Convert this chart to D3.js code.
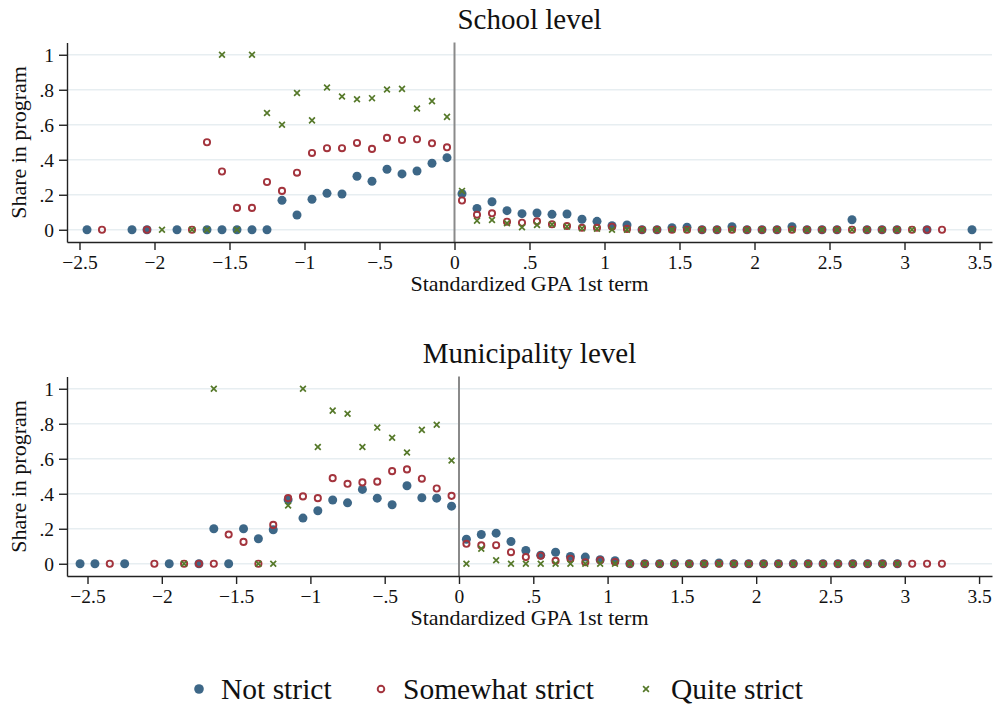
<!DOCTYPE html>
<html>
<head>
<meta charset="utf-8">
<script src="https://cdn.jsdelivr.net/npm/d3@7"></script>
<style>
  html, body { margin: 0; padding: 0; background: #ffffff; }
  svg { display: block; }
  text { font-family: "Liberation Serif", "Times New Roman", serif; fill: #111; }
</style>
</head>
<body>
<svg id="chart" width="996" height="708"></svg>
<script>
// Share in program by standardized GPA bin, [bin centre, share]
const schoolNotStrict = [
  [-2.45,0],[-2.15,0],[-2.05,0],[-1.85,0],[-1.65,0],[-1.55,0],[-1.45,0],[-1.35,0],[-1.25,0],
  [-1.15,0.168],[-1.05,0.084],[-0.95,0.174],[-0.85,0.208],[-0.75,0.204],[-0.65,0.306],
  [-0.55,0.277],[-0.45,0.346],[-0.35,0.319],[-0.25,0.336],[-0.15,0.38],[-0.05,0.412],
  [0.05,0.206],[0.15,0.122],[0.25,0.16],[0.35,0.109],[0.45,0.092],[0.55,0.096],[0.65,0.088],
  [0.75,0.09],[0.85,0.06],[0.95,0.048],[1.05,0.023],[1.15,0.027],[1.25,0],[1.35,0],
  [1.45,0.012],[1.55,0.015],[1.65,0],[1.75,0],[1.85,0.017],[1.95,0],[2.05,0],[2.15,0],
  [2.25,0.017],[2.35,0],[2.45,0],[2.55,0],[2.65,0.057],[2.75,0],[2.85,0],[2.95,0],
  [3.15,0],[3.45,0]
];
const schoolSomewhat = [
  [-2.35,0],[-2.05,0],[-1.75,0],[-1.65,0.5],[-1.55,0.333],[-1.45,0.125],[-1.35,0.125],
  [-1.25,0.273],[-1.15,0.222],[-1.05,0.326],[-0.95,0.439],[-0.85,0.466],[-0.75,0.466],
  [-0.65,0.496],[-0.55,0.462],[-0.45,0.525],[-0.35,0.513],[-0.25,0.517],[-0.15,0.494],
  [-0.05,0.471],[0.05,0.167],[0.15,0.086],[0.25,0.094],[0.35,0.046],[0.45,0.04],
  [0.55,0.048],[0.65,0.031],[0.75,0.021],[0.85,0.011],[0.95,0.011],[1.05,0.017],
  [1.15,0.005],[1.25,0],[1.35,0],[1.45,0],[1.55,0],[1.65,0],[1.75,0],[1.85,0],[1.95,0],
  [2.05,0],[2.15,0],[2.25,0],[2.35,0],[2.45,0],[2.55,0],[2.65,0],[2.75,0],[2.85,0],
  [2.95,0],[3.05,0],[3.15,0],[3.25,0]
];
const schoolQuite = [
  [-1.95,0],[-1.75,0],[-1.65,0],[-1.55,1],[-1.45,0],[-1.35,1],[-1.25,0.667],[-1.15,0.6],
  [-1.05,0.781],[-0.95,0.625],[-0.85,0.8125],[-0.75,0.761],[-0.65,0.746],[-0.55,0.752],
  [-0.45,0.801],[-0.35,0.805],[-0.25,0.693],[-0.15,0.735],[-0.05,0.645],[0.05,0.222],
  [0.15,0.052],[0.25,0.056],[0.35,0.037],[0.45,0.014],[0.55,0.027],[0.65,0.03],
  [0.75,0.018],[0.85,0.008],[0.95,0.006],[1.05,0],[1.15,0],[1.25,0],[1.35,0],[1.45,0],
  [1.55,0],[1.65,0],[1.75,0],[1.85,0],[1.95,0],[2.05,0],[2.15,0],[2.25,0],[2.35,0],
  [2.45,0],[2.55,0],[2.65,0],[2.75,0],[2.85,0],[2.95,0],[3.05,0]
];

const muniNotStrict = [
  [-2.55,0],[-2.45,0],[-2.25,0],[-1.95,0],[-1.75,0],[-1.65,0.2],[-1.55,0],[-1.45,0.2],
  [-1.35,0.143],[-1.25,0.194],[-1.15,0.366],[-1.05,0.261],[-0.95,0.303],[-0.85,0.364],
  [-0.75,0.348],[-0.65,0.425],[-0.55,0.375],[-0.45,0.337],[-0.35,0.446],[-0.25,0.377],
  [-0.15,0.375],[-0.05,0.329],[0.05,0.14],[0.15,0.167],[0.25,0.175],[0.35,0.127],
  [0.45,0.076],[0.55,0.049],[0.65,0.066],[0.75,0.042],[0.85,0.038],[0.95,0.023],
  [1.05,0.017],[1.15,0],[1.25,0],[1.35,0],[1.45,0],[1.55,0],[1.65,0],[1.75,0.004],
  [1.85,0],[1.95,0],[2.05,0],[2.15,0],[2.25,0],[2.35,0],[2.45,0],[2.55,0],[2.65,0],
  [2.75,0],[2.85,0],[2.95,0]
];
const muniSomewhat = [
  [-2.35,0],[-2.05,0],[-1.85,0],[-1.75,0],[-1.65,0],[-1.55,0.167],[-1.45,0.125],
  [-1.35,0],[-1.25,0.222],[-1.15,0.375],[-1.05,0.385],[-0.95,0.375],[-0.85,0.489],
  [-0.75,0.457],[-0.65,0.465],[-0.55,0.469],[-0.45,0.529],[-0.35,0.539],[-0.25,0.486],
  [-0.15,0.43],[-0.05,0.388],[0.05,0.114],[0.15,0.105],[0.25,0.106],[0.35,0.066],
  [0.45,0.038],[0.55,0.046],[0.65,0.017],[0.75,0.029],[0.85,0.009],[0.95,0.02],
  [1.05,0.01],[1.15,0],[1.25,0],[1.35,0],[1.45,0],[1.55,0],[1.65,0],[1.75,0],[1.85,0],
  [1.95,0],[2.05,0],[2.15,0],[2.25,0],[2.35,0],[2.45,0],[2.55,0],[2.65,0],[2.75,0],
  [2.85,0],[2.95,0],[3.05,0],[3.15,0],[3.25,0]
];
const muniQuite = [
  [-1.85,0],[-1.65,1],[-1.35,0],[-1.25,0],[-1.15,0.333],[-1.05,1],[-0.95,0.667],
  [-0.85,0.875],[-0.75,0.857],[-0.65,0.667],[-0.55,0.778],[-0.45,0.72],[-0.35,0.636],
  [-0.25,0.765],[-0.15,0.794],[-0.05,0.59],[0.05,0],[0.15,0.086],[0.25,0.02],[0.35,0],
  [0.45,0],[0.55,0],[0.65,0],[0.75,0],[0.85,0],[0.95,0],[1.05,0],[1.15,0],[1.25,0],
  [1.35,0],[1.45,0],[1.55,0],[1.65,0],[1.75,0],[1.85,0],[1.95,0],[2.05,0],[2.15,0],
  [2.25,0],[2.35,0],[2.45,0],[2.55,0],[2.65,0],[2.75,0],[2.85,0],[2.95,0]
];

const xTicks = [-2.5, -2, -1.5, -1, -0.5, 0, 0.5, 1, 1.5, 2, 2.5, 3, 3.5];
const yTicks = [0, 0.2, 0.4, 0.6, 0.8, 1];
const seriesNames = ["Not strict", "Somewhat strict", "Quite strict"];
const panelTitles = ["School level", "Municipality level"];
const xTitle = "Standardized GPA 1st term";
const yTitle = "Share in program";

const colors = { blue: "#3d6787", red: "#a3343d", green: "#56792a" };

const svg = d3.select("#chart");

function fmt(v) {
  if (v === 0) return "0";
  const s = String(Math.abs(v)).replace(/^0\./, ".");
  return (v < 0 ? "\u2212" : "") + s;
}

function drawMarker(g, kind, x, y) {
  if (kind === 0) {
    g.append("circle").attr("cx", x).attr("cy", y).attr("r", 4.5)
      .attr("fill", colors.blue);
  } else if (kind === 1) {
    g.append("circle").attr("cx", x).attr("cy", y).attr("r", 3.1)
      .attr("fill", "none").attr("stroke", colors.red).attr("stroke-width", 1.9);
  } else {
    const s = 2.9;
    g.append("path")
      .attr("d", `M${x - s},${y - s}L${x + s},${y + s}M${x - s},${y + s}L${x + s},${y - s}`)
      .attr("stroke", colors.green).attr("stroke-width", 1.7).attr("fill", "none");
  }
}

function panel(cfg) {
  const g = svg.append("g");
  const x = d3.scaleLinear().domain(cfg.xDomain).range([67, 992]);
  const y = d3.scaleLinear().domain([-0.07, 1.07]).range([cfg.bottom, cfg.bottom - 199.5]);

  // horizontal grid
  g.append("g").selectAll("line").data(yTicks).join("line")
    .attr("x1", 68).attr("x2", 992)
    .attr("y1", d => y(d)).attr("y2", d => y(d))
    .attr("stroke", "#e7eef1").attr("stroke-width", 1.6);

  // cutoff line at zero
  g.append("line")
    .attr("x1", x(0)).attr("x2", x(0))
    .attr("y1", y.range()[1]).attr("y2", y.range()[0])
    .attr("stroke", "#8a8a8a").attr("stroke-width", 2);

  // axes
  const xAxis = d3.axisBottom(x).tickValues(xTicks).tickFormat(fmt)
    .tickSize(8).tickSizeOuter(0).tickPadding(4.8);
  const gx = g.append("g").attr("transform", `translate(0,${cfg.bottom})`).call(xAxis);
  gx.selectAll("text").style("font-size", "19.5px").attr("fill", "#111");
  gx.selectAll("line, path").attr("stroke", "#222").attr("stroke-width", 1.4);

  const yAxis = d3.axisLeft(y).tickValues(yTicks).tickFormat(fmt)
    .tickSize(8).tickSizeOuter(0).tickPadding(5);
  const gy = g.append("g").attr("transform", "translate(67,0)").call(yAxis);
  gy.selectAll("text").style("font-size", "19.5px").attr("fill", "#111");
  gy.selectAll("line, path").attr("stroke", "#222").attr("stroke-width", 1.4);

  // markers
  const mk = g.append("g");
  cfg.series.forEach((data, k) => {
    data.forEach(d => drawMarker(mk, k, x(d[0]), y(d[1])));
  });

  // titles
  g.append("text").attr("x", 529.5).attr("y", cfg.bottom - 213)
    .attr("text-anchor", "middle").style("font-size", "29px").text(cfg.title);
  g.append("text").attr("x", 529.5).attr("y", cfg.bottom + 49)
    .attr("text-anchor", "middle").style("font-size", "22px").text(xTitle);
  g.append("text")
    .attr("transform", `translate(26,${cfg.bottom - 99.5}) rotate(-90)`)
    .attr("text-anchor", "middle").style("font-size", "22px").text(yTitle);
}

panel({ title: panelTitles[0], bottom: 242, xDomain: [-2.5833, 3.5833],
        series: [schoolNotStrict, schoolSomewhat, schoolQuite] });
panel({ title: panelTitles[1], bottom: 576, xDomain: [-2.638, 3.587],
        series: [muniNotStrict, muniSomewhat, muniQuite] });

// legend
const legendItems = [
  { kind: 0, mx: 199, tx: 221 },
  { kind: 1, mx: 381, tx: 403 },
  { kind: 2, mx: 646, tx: 671 }
];
const lg = svg.append("g");
legendItems.forEach((it, i) => {
  if (it.kind === 0) {
    lg.append("circle").attr("cx", it.mx).attr("cy", 689).attr("r", 4.8).attr("fill", colors.blue);
  } else if (it.kind === 1) {
    lg.append("circle").attr("cx", it.mx).attr("cy", 689).attr("r", 3.3)
      .attr("fill", "none").attr("stroke", colors.red).attr("stroke-width", 1.9);
  } else {
    drawMarker(lg, 2, it.mx, 689);
  }
  lg.append("text").attr("x", it.tx).attr("y", 699).style("font-size", "29.5px").text(seriesNames[i]);
});
</script>
</body>
</html>
